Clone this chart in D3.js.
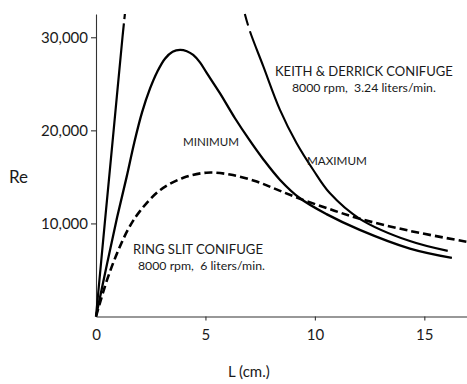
<!DOCTYPE html>
<html>
<head>
<meta charset="utf-8">
<script src="https://cdn.jsdelivr.net/npm/d3@7"></script>
<style>
  html, body { margin: 0; padding: 0; background: #fff; }
  svg { display: block; }
  text { font-family: Lato, "Open Sans", sans-serif; fill: #1a1a1a; }
</style>
</head>
<body>
<svg id="chart" width="467" height="384"></svg>
<script>
// ---- Data ----
const xTicks = [0, 5, 10, 15];
const xTickLabels = ["0", "5", "10", "15"];
const yTicks = [10000, 20000, 30000];
const yTickLabels = ["10,000", "20,000", "30,000"];

// Keith & Derrick conifuge, MAXIMUM – left (rising) branch
const maxLeftL  = [0, 0.4, 0.81, 1.21, 1.32];
const maxLeftRe = [0, 10000, 20100, 30000, 32500];
// Keith & Derrick conifuge, MAXIMUM – right (falling) branch
const maxRightL  = [6.8, 7.03, 7.64, 8.4, 9.16, 9.92, 10.68, 12.05, 14.34, 16.07];
const maxRightRe = [32500, 30660, 26900, 22230, 18640, 15770, 13260, 10500, 8100, 7050];
// Keith & Derrick conifuge, MINIMUM
const minL  = [0, 0.5, 0.96, 1.4, 1.75, 2.1, 2.47, 2.8, 3.15, 3.5, 3.84, 4.15, 4.44, 4.75, 5.05, 5.66, 6.35, 7.0, 7.64, 8.4, 9.32, 10.53, 12.05, 14.34, 16.26];
const minRe = [0, 5600, 10600, 15000, 18700, 21900, 24500, 26300, 27700, 28450, 28650, 28500, 28100, 27300, 26200, 24000, 21300, 19000, 16900, 14700, 12700, 11000, 9310, 7300, 6300];
// Ring slit conifuge (dashed)
const ringL  = [0, 0.5, 1.0, 1.5, 2.0, 2.94, 3.99, 5.05, 6.12, 7.34, 8.3, 9.32, 10.6, 12.05, 14.34, 16.95];
const ringRe = [0, 3900, 7000, 9500, 11300, 13600, 14900, 15450, 15250, 14500, 13600, 12650, 11600, 10500, 9200, 8020];

// ---- Layout ----
const svg = d3.select("#chart");
const x = d3.scaleLinear().domain([0, 16.95]).range([96, 467]);
const y = d3.scaleLinear().domain([0, 32500]).range([316.5, 14]);
const FONT = "Lato, \"Open Sans\", sans-serif";

// Axes
const yAxis = d3.axisLeft(y).tickValues(yTicks)
  .tickFormat((d, i) => yTickLabels[i]).tickSize(5).tickSizeOuter(0).tickPadding(3);
const gy = svg.append("g").attr("transform", "translate(96,0)").call(yAxis);
const xAxis = d3.axisBottom(x).tickValues(xTicks)
  .tickFormat((d, i) => xTickLabels[i]).tickSize(4).tickSizeOuter(0).tickPadding(9);
const gx = svg.append("g").attr("transform", "translate(0,316.5)").call(xAxis);

[gx, gy].forEach(g => {
  g.select(".domain").attr("stroke", "#333").attr("stroke-width", 1.1);
  g.selectAll(".tick line").attr("stroke", "#333").attr("stroke-width", 1.1);
  g.selectAll(".tick text").style("font-family", FONT)
    .attr("font-size", 15).attr("fill", "#1a1a1a");
});
gx.selectAll(".tick").filter(d => d === 0).select("line").remove();

// ---- Curves ----
const line = d3.line().x(d => x(d[0])).y(d => y(d[1])).curve(d3.curveCatmullRom.alpha(0.5));

const pLeft = svg.append("path").datum(d3.zip(maxLeftL, maxLeftRe))
  .attr("d", line).attr("fill", "none").attr("stroke", "#000").attr("stroke-width", 2.2);
const lenLeft = pLeft.node().getTotalLength();
pLeft.attr("stroke-dasharray", `${lenLeft - 9.5} 4 5.5`);

svg.append("path").datum(d3.zip(maxRightL, maxRightRe))
  .attr("d", line).attr("fill", "none").attr("stroke", "#000").attr("stroke-width", 2.1)
  .attr("stroke-dasharray", "12 6 2000");

svg.append("path").datum(d3.zip(minL, minRe))
  .attr("d", line).attr("fill", "none").attr("stroke", "#000").attr("stroke-width", 2.3);

svg.append("path").datum(d3.zip(ringL, ringRe))
  .attr("d", line).attr("fill", "none").attr("stroke", "#000").attr("stroke-width", 2.6)
  .attr("stroke-dasharray", "8 4");

// ---- Labels: font size fitted to the width seen in the reference ----
function label(txt, xPos, yPos, maxSize, width) {
  const t = svg.append("text").attr("x", xPos).attr("y", yPos)
    .attr("font-size", maxSize).style("white-space", "pre").text(txt);
  if (width) {
    const w = t.node().getComputedTextLength();
    if (w > width) t.attr("font-size", (maxSize * width / w).toFixed(2));
  }
  return t;
}
label("KEITH & DERRICK CONIFUGE", 275, 75.5, 16, 178);
label("8000 rpm,  3.24 liters/min.", 292, 92, 14, 144);
label("MINIMUM", 183, 146, 13, 56);
label("MAXIMUM", 307, 165, 13, 60);
label("RING SLIT CONIFUGE", 133, 253.5, 15, 130);
label("8000 rpm,  6 liters/min.", 138, 269.5, 13, 127);
label("Re", 9, 183, 17);
label("L (cm.)", 228, 377, 15, 44);
</script>
</body>
</html>
